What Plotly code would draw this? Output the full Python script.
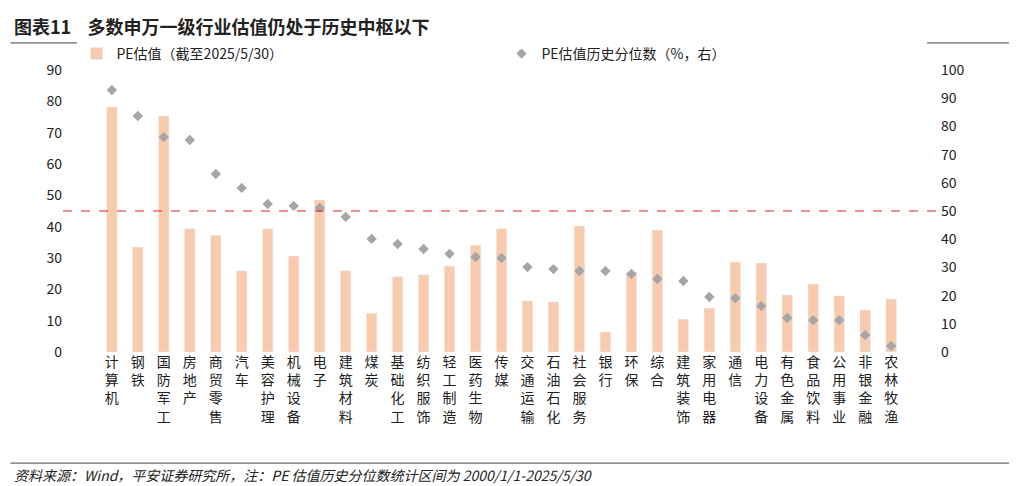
import plotly.graph_objects as go

industries = ['计算机', '钢铁', '国防军工', '房地产', '商贸零售', '汽车', '美容护理', '机械设备', '电子', '建筑材料',
              '煤炭', '基础化工', '纺织服饰', '轻工制造', '医药生物', '传媒', '交通运输', '石油石化', '社会服务', '银行',
              '环保', '综合', '建筑装饰', '家用电器', '通信', '电力设备', '有色金属', '食品饮料', '公用事业', '非银金融', '农林牧渔']
pe = [78.2, 33.5, 75.3, 39.3, 37.3, 25.9, 39.3, 30.6, 48.5, 25.9,
      12.4, 24.0, 24.6, 27.4, 34.1, 39.3, 16.3, 16.0, 40.2, 6.4,
      25.5, 38.9, 10.5, 14.0, 28.7, 28.4, 18.2, 21.7, 17.9, 13.4, 16.9]
pct = [92.9, 83.7, 76.2, 75.2, 63.1, 58.2, 52.5, 51.8, 51.1, 47.9,
       40.1, 38.3, 36.5, 34.8, 33.7, 33.3, 30.1, 29.4, 28.7, 28.7,
       27.7, 25.9, 25.2, 19.5, 19.1, 16.3, 12.1, 11.3, 11.3, 6.0, 2.1]
labels = ['<br>'.join(s) for s in industries]

fig = go.Figure()
fig.add_bar(x=labels, y=pe, name='PE估值（截至2025/5/30）', marker_color='#F8CBAD', width=0.4)
fig.add_scatter(x=labels, y=pct, name='PE估值历史分位数（%，右）', mode='markers', yaxis='y2',
                marker=dict(symbol='diamond', color='#A6A6A6', size=8))

fig.update_layout(
    width=1017, height=486, plot_bgcolor='white', paper_bgcolor='white',
    font=dict(family='Noto Sans CJK SC', size=14, color='#222'),
    margin=dict(l=55, r=85, t=62, b=142),
    bargap=0.5,
    legend=dict(orientation='h', x=0.5, xanchor='center', y=1.0, yanchor='bottom', font=dict(size=14), entrywidth=380),
    xaxis=dict(tickangle=0, showline=False, ticks='', tickfont=dict(size=14)),
    yaxis=dict(range=[0, 90], dtick=10, showgrid=False, ticks='', showline=False),
    yaxis2=dict(range=[0, 100], dtick=10, overlaying='y', side='right', showgrid=False, ticks='', showline=False),
    shapes=[
        dict(type='line', xref='paper', x0=0, x1=1, yref='y2', y0=50, y1=50,
             line=dict(color='#E02020', width=1.2, dash='dash')),
        dict(type='line', xref='paper', yref='paper', x0=-0.06, x1=1.1, y0=1.096, y1=1.096, line=dict(color='#444', width=1)),
        dict(type='line', xref='paper', yref='paper', x0=-0.06, x1=1.1, y0=-0.394, y1=-0.394, line=dict(color='#444', width=1)),
    ],
    annotations=[
        dict(text='<b>图表11    多数申万一级行业估值仍处于历史中枢以下</b>', xref='paper', yref='paper', x=-0.058, y=1.156,
             xanchor='left', yanchor='middle', showarrow=False, font=dict(size=18)),
        dict(text='<i>资料来源：Wind，平安证券研究所，注：PE 估值历史分位数统计区间为 2000/1/1-2025/5/30</i>', xref='paper', yref='paper',
             x=-0.058, y=-0.436, xanchor='left', yanchor='middle', showarrow=False, font=dict(size=14)),
    ],
)
fig.write_html('out.html')
